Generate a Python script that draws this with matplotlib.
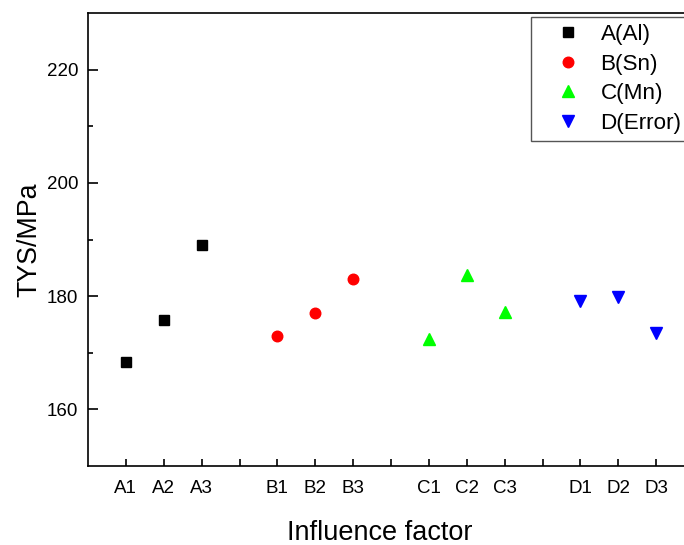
import matplotlib
matplotlib.use("Agg")
import matplotlib.pyplot as plt

plt.rcParams['font.family'] = ['Liberation Sans', 'DejaVu Sans']

# orthogonal test levels, TYS in MPa
tick_labels = ['A1', 'A2', 'A3', '', 'B1', 'B2', 'B3', '', 'C1', 'C2', 'C3', '', 'D1', 'D2', 'D3']
pos_a = [1, 2, 3]
pos_b = [5, 6, 7]
pos_c = [9, 10, 11]
pos_d = [13, 14, 15]
tys_a = [168.3, 175.7, 189.0]
tys_b = [173.0, 177.0, 183.0]
tys_c = [172.4, 183.8, 177.2]
tys_d = [179.1, 179.8, 173.4]

fig = plt.figure(figsize=(6.84, 5.45), dpi=100)
ax = fig.add_axes([88 / 684, 79 / 545, 606 / 684, 453 / 545])

ax.plot(pos_a, tys_a, ls='none', marker='s', ms=6.8, color='black', label='A(Al)')
ax.plot(pos_b, tys_b, ls='none', marker='o', ms=7.6, color='#ff0000', label='B(Sn)')
ax.plot(pos_c, tys_c, ls='none', marker='^', ms=9.2, color='#00ff00', label='C(Mn)')
ax.plot(pos_d, tys_d, ls='none', marker='v', ms=9.2, color='#0000ff', label='D(Error)')

ax.set_xlim(0, 16)
ax.set_ylim(150, 230)
ax.set_xticks(range(1, 16))
ax.set_xticklabels(tick_labels)
ax.set_yticks([160, 180, 200, 220])
ax.set_yticks([170, 190, 210], minor=True)

ax.tick_params(axis='x', direction='in', length=5, width=1.2, pad=10, labelsize=13.5)
ax.tick_params(axis='y', which='major', direction='in', length=7, width=1.2, pad=7, labelsize=13.5)
ax.tick_params(axis='y', which='minor', direction='in', length=3.5, width=1.2)
for sp in ax.spines.values():
    sp.set_linewidth(1.2)

ax.set_ylabel('TYS/MPa', fontsize=19.3, labelpad=3)
ax.set_xlabel('Influence factor', fontsize=19.5)
ax.xaxis.set_label_coords(0.482, -0.12)

leg = ax.legend(loc='upper left', bbox_to_anchor=(531 / 684, 1 - 17 / 545),
                bbox_transform=fig.transFigure, borderaxespad=0, fontsize=16.2,
                fancybox=False, framealpha=1, edgecolor='#555555',
                handletextpad=0.15, labelspacing=0.38, borderpad=0.32,
                handlelength=2.62)
leg.get_frame().set_linewidth(1.0)

fig.savefig('out.png', dpi=100)
